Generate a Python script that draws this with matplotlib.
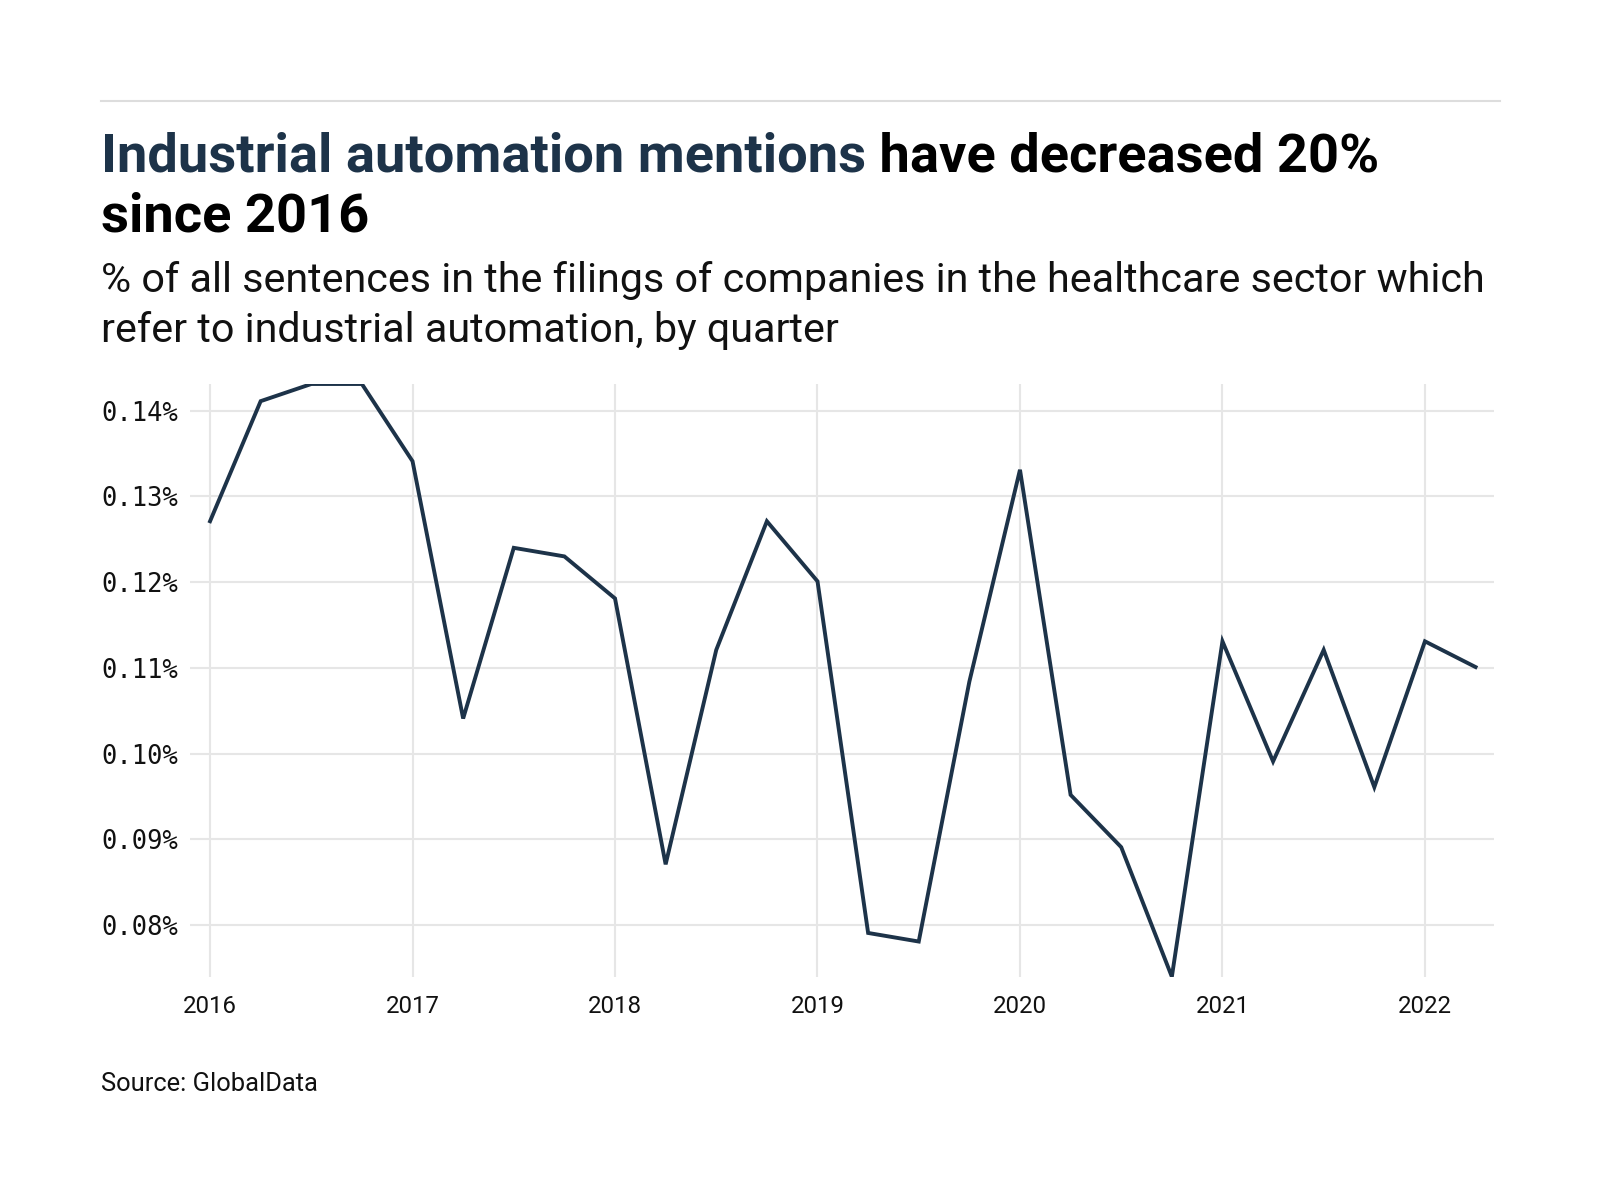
import numpy as np
import matplotlib
matplotlib.use("Agg")
from matplotlib import pyplot as plt
from matplotlib.lines import Line2D

# Quarterly share of sentences mentioning industrial automation (%)
quarters = ["2016Q1", "2016Q2", "2016Q3", "2016Q4",
            "2017Q1", "2017Q2", "2017Q3", "2017Q4",
            "2018Q1", "2018Q2", "2018Q3", "2018Q4",
            "2019Q1", "2019Q2", "2019Q3", "2019Q4",
            "2020Q1", "2020Q2", "2020Q3", "2020Q4",
            "2021Q1", "2021Q2", "2021Q3", "2021Q4",
            "2022Q1", "2022Q2"]
share = [0.1271, 0.1411, 0.1431, 0.1431,
         0.1341, 0.1041, 0.1240, 0.1230,
         0.1181, 0.0871, 0.1121, 0.1271,
         0.1201, 0.0791, 0.0781, 0.1084,
         0.1331, 0.0952, 0.0891, 0.0740,
         0.1131, 0.0991, 0.1121, 0.0961,
         0.1131, 0.1101]
year_ticks = [2016, 2017, 2018, 2019, 2020, 2021, 2022]
pct_ticks = [0.08, 0.09, 0.10, 0.11, 0.12, 0.13, 0.14]

# Convert "YYYYQn" to decimal year
x = np.array([int(q[:4]) + (int(q[-1]) - 1) * 0.25 for q in quarters])
y = np.array(share)

line_color = "#1d3349"
grid_color = "#e6e6e6"
sans = ["Roboto", "DejaVu Sans"]
W, H = 1600, 1200

fig = plt.figure(figsize=(16, 12), dpi=100)
renderer = fig.canvas.get_renderer()


def fit_size(text, width_px, **kw):
    # font size (pt) that makes `text` about width_px wide
    t = fig.text(0, 0, text, fontsize=20, **kw)
    w = t.get_window_extent(renderer).width
    t.remove()
    return 20 * width_px / w


ax = fig.add_axes([190 / W, 1 - 976.7 / H, (1494.4 - 190) / W, (976.7 - 384) / H])

ax.plot(x, y, color=line_color, linewidth=2.8, solid_joinstyle="miter")

ax.set_xlim(2015.901, 2022.343)
ax.set_ylim(y.min(), y.max())
ax.set_xticks(year_ticks)
ax.set_xticklabels([str(t) for t in year_ticks], family=sans,
                   fontsize=fit_size("2016", 54, family=sans), color="#111111")
ax.set_yticks(pct_ticks)
ax.set_yticklabels([f"{t:.2f}%" for t in pct_ticks], family="DejaVu Sans Mono",
                   fontsize=fit_size("0.14%", 77, family="DejaVu Sans Mono"),
                   color="#111111")
ax.tick_params(axis="x", length=0, pad=13.5)
ax.tick_params(axis="y", length=0, pad=8.5)
ax.grid(True, color=grid_color, linewidth=1.5)
ax.set_axisbelow(True)
for s in ax.spines.values():
    s.set_visible(False)

left = 101 / W

# Top rule
fig.add_artist(Line2D([left, 1500 / W], [1 - 101 / H, 1 - 101 / H],
                      color="#dddddd", linewidth=1.5))

# Title in two colours
title_a = "Industrial automation mentions"
title_b = "have decreased 20%"
tsize = fit_size(title_a + " " + title_b, 1275, family=sans, fontweight="bold")
t1 = fig.text(left, 1 - 171.7 / H, title_a, family=sans, fontsize=tsize,
              fontweight="bold", color=line_color, va="baseline", ha="left")
bb = t1.get_window_extent(renderer)
t2 = fig.text(bb.x1 / W, 1 - 171.7 / H, " " + title_b, family=sans, fontsize=tsize,
              fontweight="bold", color="#000000", va="baseline", ha="left")
fig.text(left, 1 - 231 / H, "since 2016", family=sans, fontsize=tsize,
         fontweight="bold", color="#000000", va="baseline", ha="left")

# Subtitle
sub1 = "% of all sentences in the filings of companies in the healthcare sector which"
sub2 = "refer to industrial automation, by quarter"
ssize = fit_size(sub1, 1379, family=sans)
fig.text(left, 1 - 291.7 / H, sub1, family=sans, fontsize=ssize, color="#111111",
         va="baseline", ha="left")
fig.text(left, 1 - 341.7 / H, sub2, family=sans, fontsize=ssize, color="#111111",
         va="baseline", ha="left")

# Source
fig.text(left, 1 - 1091 / H, "Source: GlobalData", family=sans,
         fontsize=fit_size("Source: GlobalData", 217, family=sans),
         color="#111111", va="baseline", ha="left")

fig.savefig("out.png", dpi=100, facecolor="white")
